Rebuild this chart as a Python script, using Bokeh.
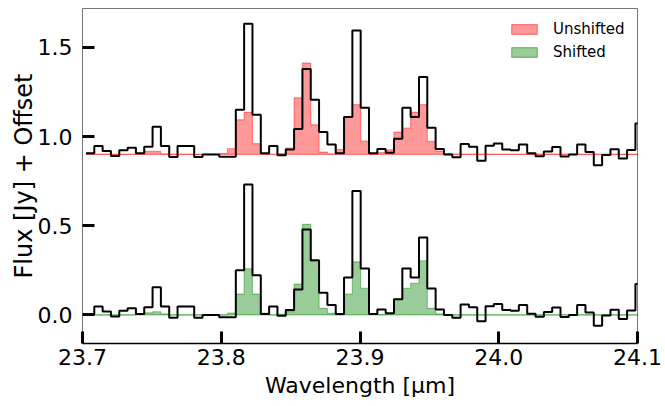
from bokeh.plotting import figure
from bokeh.models import FixedTicker, PrintfTickFormatter, Legend, LegendItem
from bokeh.embed import file_html
from bokeh.resources import INLINE

# ---- data ----
wavelength = [23.7055, 23.7115, 23.7175, 23.7235, 23.7295, 23.7355, 23.7415, 23.7475,
              23.7535, 23.7595, 23.7655, 23.7715, 23.7775, 23.7835, 23.7895, 23.7955,
              23.8015, 23.8075, 23.8135, 23.8195, 23.8255, 23.8315, 23.8375, 23.8435,
              23.8495, 23.8555, 23.8615, 23.8675, 23.8735, 23.8795, 23.8855, 23.8915,
              23.8975, 23.9035, 23.9095, 23.9155, 23.9215, 23.9275, 23.9335, 23.9395,
              23.9455, 23.9515, 23.9575, 23.9635, 23.9695, 23.9755, 23.9815, 23.9875,
              23.9935, 23.9995, 24.0055, 24.0115, 24.0175, 24.0235, 24.0295, 24.0355,
              24.0415, 24.0475, 24.0535, 24.0595, 24.0655, 24.0715, 24.0775, 24.0835,
              24.0895, 24.0955, 24.1015]

flux = [0.006, 0.047, 0.019, -0.009, 0.024, 0.037, 0.006, 0.043,
        0.155, 0.047, -0.015, 0.047, 0.047, -0.015, 0.0, 0.0,
        -0.013, -0.013, 0.251, 0.732, 0.222, 0.006, 0.047, -0.004,
        0.028, 0.143, 0.479, 0.307, 0.125, 0.056, 0.006, 0.210,
        0.695, 0.261, 0.006, 0.030, 0.010, 0.088, 0.261, 0.210,
        0.434, 0.149, 0.030, 0.0, -0.016, 0.058, 0.043, -0.035,
        0.049, 0.061, 0.028, 0.023, 0.056, 0.007, -0.010, 0.017,
        0.042, -0.011, 0.0, 0.056, 0.014, -0.061, -0.003, 0.029,
        -0.023, 0.025, 0.173]

model_unshifted = [0.0, 0.0, 0.0, 0.0, 0.0, 0.0, 0.003, 0.017,
                   0.017, 0.003, 0.0, 0.0, 0.0, 0.0, 0.0, 0.0,
                   0.005, 0.032, 0.194, 0.236, 0.060, 0.003, 0.0, 0.005,
                   0.035, 0.317, 0.512, 0.166, 0.013, 0.003, 0.028, 0.209,
                   0.279, 0.074, 0.003, 0.010, 0.026, 0.125, 0.147, 0.236,
                   0.279, 0.073, 0.019, 0.004, 0.0, 0.0, 0.0, 0.0,
                   0.0, 0.0, 0.0, 0.0, 0.0, 0.0, 0.0, 0.0,
                   0.0, 0.0, 0.0, 0.0, 0.0, 0.0, 0.0, 0.0,
                   0.0, 0.0, 0.0]

model_shifted = [0.0, 0.0, 0.0, 0.0, 0.0, 0.0, 0.003, 0.012,
                 0.018, 0.006, 0.0, 0.0, 0.0, 0.0, 0.0, 0.0,
                 0.0, 0.010, 0.117, 0.259, 0.117, 0.010, 0.0, 0.003,
                 0.019, 0.173, 0.508, 0.300, 0.037, 0.009, 0.002, 0.117,
                 0.298, 0.149, 0.005, 0.002, 0.006, 0.088, 0.149, 0.177,
                 0.304, 0.037, 0.006, 0.0, 0.0, 0.0, 0.0, 0.0,
                 0.0, 0.0, 0.0, 0.0, 0.0, 0.0, 0.0, 0.0,
                 0.0, 0.0, 0.0, 0.0, 0.0, 0.0, 0.0, 0.0,
                 0.0, 0.0, 0.0]

offset = 0.9
x_ticks = [23.7, 23.8, 23.9, 24.0, 24.1]
y_ticks = [0.0, 0.5, 1.0, 1.5]
series_labels = ["Unshifted", "Shifted"]
x_title = "Wavelength [µm]"
y_title = "Flux [Jy] + Offset"

# ---- derived step geometry (bin edges) ----
half = (wavelength[1] - wavelength[0]) / 2.0
edges = [w - half for w in wavelength] + [wavelength[-1] + half]


def ext(v):
    return list(v) + [v[-1]]


flux_lo = ext(flux)
flux_hi = ext([f + offset for f in flux])
red_top = ext([m + offset for m in model_unshifted])
red_base = [offset] * len(edges)
green_top = ext(model_shifted)
green_base = [0.0] * len(edges)

FONT = "DejaVu Sans"

p = figure(width=665, height=406, x_range=(23.7, 24.1), y_range=(-0.160, 1.718),
           output_backend="svg", toolbar_location=None,
           min_border_left=82, min_border_right=28, min_border_top=8, min_border_bottom=63)
p.grid.visible = False
p.outline_line_color = "#777777"
p.outline_line_width = 1
p.background_fill_color = "white"
p.border_fill_color = "white"

RED = "#ff0000"
GREEN = "#008000"

# unshifted model (top, red)
p.varea_step(x=edges, y1=red_base, y2=red_top, step_mode="after",
             fill_color=RED, fill_alpha=0.4)
p.step(x=edges, y=red_top, mode="after", line_color=RED, line_alpha=0.4, line_width=1.2)
p.line(x=edges, y=red_base, line_color=RED, line_alpha=0.4, line_width=1.2)

# shifted model (bottom, green)
p.varea_step(x=edges, y1=green_base, y2=green_top, step_mode="after",
             fill_color=GREEN, fill_alpha=0.4)
p.step(x=edges, y=green_top, mode="after", line_color=GREEN, line_alpha=0.4, line_width=1.2)
p.line(x=edges, y=green_base, line_color=GREEN, line_alpha=0.4, line_width=1.2)

# data
p.step(x=edges, y=flux_hi, mode="after", line_color="black", line_width=2)
p.step(x=edges, y=flux_lo, mode="after", line_color="black", line_width=2)

# legend proxies (hidden renderers carrying the model bins)
leg_red = p.quad(left=edges[:-1], right=edges[1:], bottom=red_base[:-1], top=red_top[:-1],
                 fill_color=RED, fill_alpha=0.4, line_color=RED, line_alpha=0.45,
                 line_width=1.2, visible=False)
leg_green = p.quad(left=edges[:-1], right=edges[1:], bottom=green_base[:-1], top=green_top[:-1],
                   fill_color=GREEN, fill_alpha=0.4, line_color=GREEN, line_alpha=0.45,
                   line_width=1.2, visible=False)
legend = Legend(items=[LegendItem(label=series_labels[0], renderers=[leg_red]),
                       LegendItem(label=series_labels[1], renderers=[leg_green])],
                location="top_right", margin=11, padding=4,
                glyph_width=32, glyph_height=12, label_width=73, label_height=20,
                label_standoff=13, spacing=3,
                label_text_font=FONT, label_text_font_size="15px",
                label_text_color="black",
                border_line_color=None, background_fill_alpha=0)
p.add_layout(legend)

# axes
xa = p.xaxis[0]
xa.ticker = FixedTicker(ticks=x_ticks)
xa.formatter = PrintfTickFormatter(format="%.1f")
xa.major_tick_in = 12
xa.major_tick_out = 0
xa.major_tick_line_width = 3
xa.minor_tick_line_color = None
xa.axis_line_color = "black"
xa.axis_line_width = 1.3
xa.major_label_text_font = FONT
xa.major_label_text_font_size = "22px"
xa.major_label_text_color = "black"
xa.major_label_standoff = 5
xa.axis_label = x_title
xa.axis_label_text_font = FONT
xa.axis_label_text_font_size = "22px"
xa.axis_label_text_font_style = "normal"
xa.axis_label_text_color = "black"
xa.axis_label_standoff = 5

ya = p.yaxis[0]
ya.ticker = FixedTicker(ticks=y_ticks)
ya.formatter = PrintfTickFormatter(format="%.1f")
ya.major_tick_in = 12
ya.major_tick_out = 0
ya.major_tick_line_width = 3
ya.minor_tick_line_color = None
ya.axis_line_color = None
ya.major_label_text_font = FONT
ya.major_label_text_font_size = "22px"
ya.major_label_text_color = "black"
ya.major_label_standoff = 10
ya.axis_label = y_title
ya.axis_label_text_font = FONT
ya.axis_label_text_font_size = "24px"
ya.axis_label_text_font_style = "normal"
ya.axis_label_text_color = "black"
ya.axis_label_standoff = -3

open("out.html", "w").write(file_html(p, INLINE))
